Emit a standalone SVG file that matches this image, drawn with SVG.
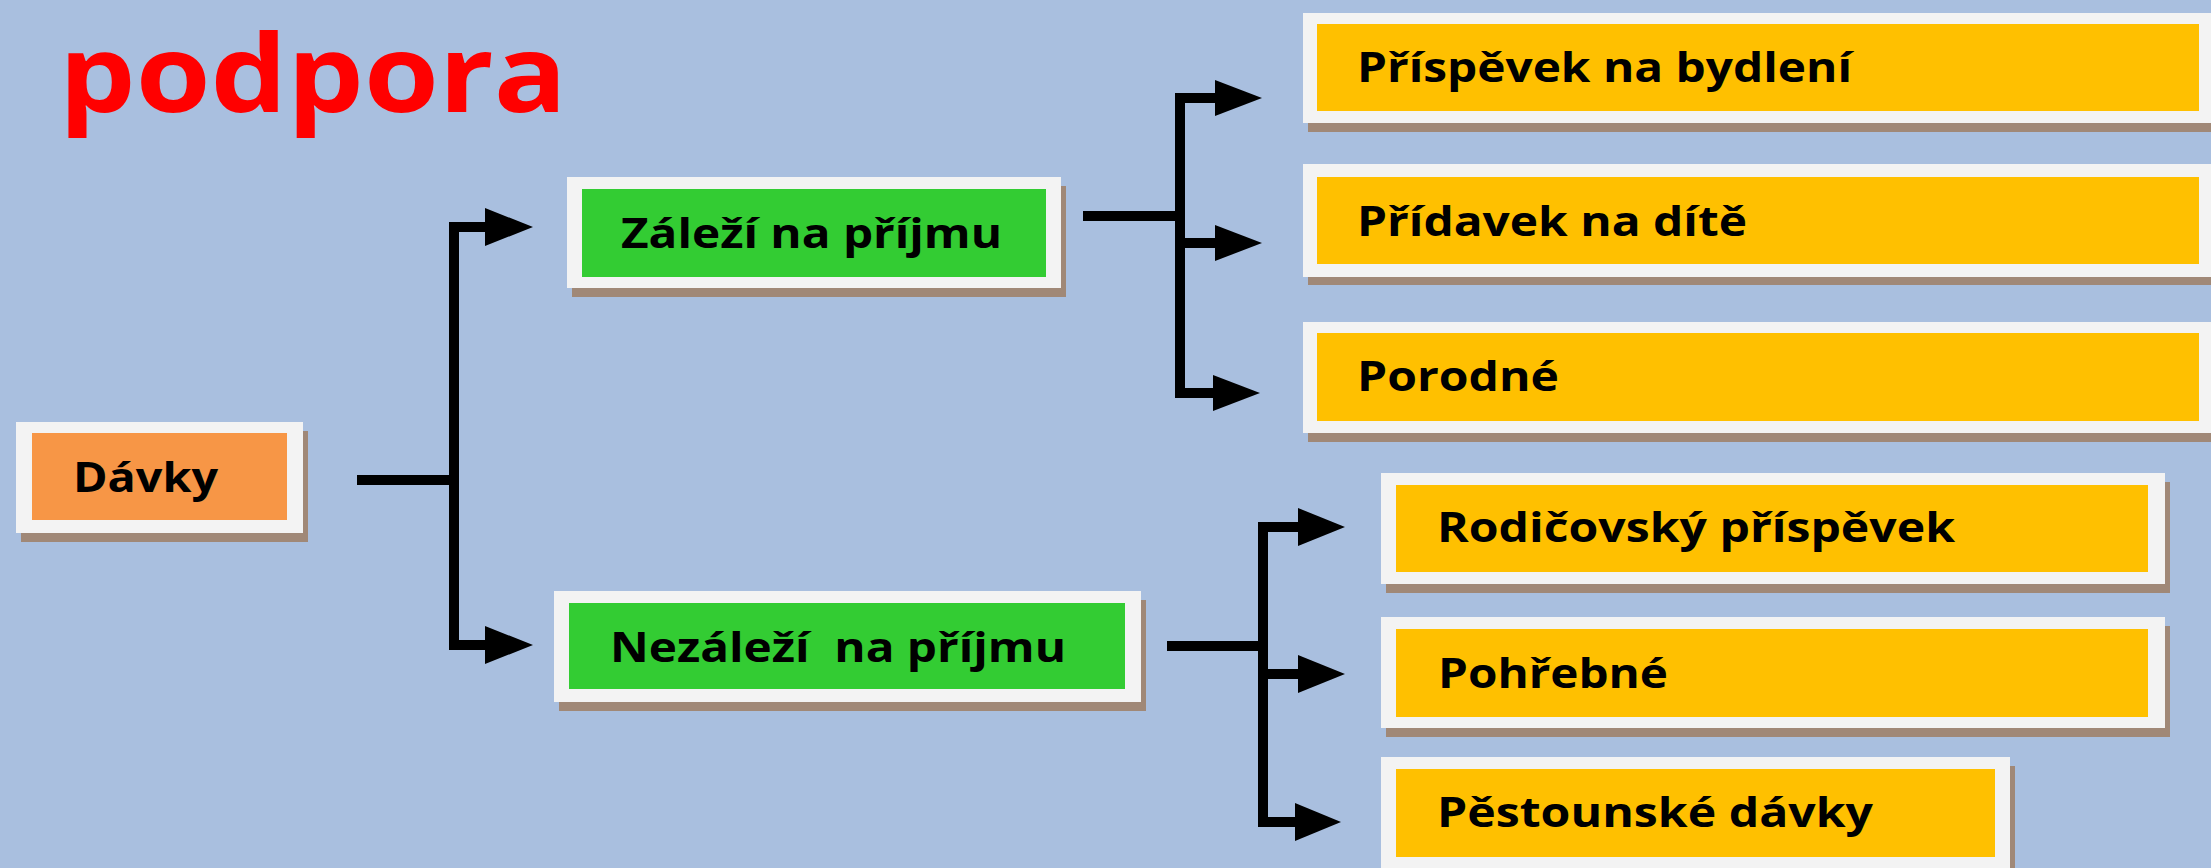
<svg xmlns="http://www.w3.org/2000/svg" width="2211" height="868" viewBox="0 0 2211 868">
<style>
.bg{fill:#A9BFDF}
.frame{fill:#F3F3F3}
.shadow{fill:#A08877}
.orange{fill:#F79646}
.green{fill:#33CC33}
.yellow{fill:#FFC000}
.lbl{font-family:"Open Sans","Noto Sans","DejaVu Sans",sans-serif;font-weight:bold;font-size:42px;fill:#000;white-space:pre}
.title{font-family:"Open Sans","Noto Sans","DejaVu Sans",sans-serif;font-weight:bold;font-size:108px;fill:#FF0000}
.line{fill:none;stroke:#000;stroke-width:10;stroke-linejoin:miter}
.head{fill:#000}
</style>
<rect class="bg" x="0" y="0" width="2211" height="868"/>
<text class="title" x="59" y="112" textLength="508" lengthAdjust="spacingAndGlyphs">podpora</text>

<g id="connectors">
  <path class="line" d="M357 480 H454"/>
  <path class="line" d="M488 227 H454 V645 H488"/>
  <polygon class="head" points="485,208 533,227 485,246"/>
  <polygon class="head" points="485,626 533,645 485,664"/>

  <path class="line" d="M1083 216 H1180"/>
  <path class="line" d="M1218 98 H1180 V393 H1218"/>
  <path class="line" d="M1180 243 H1218"/>
  <polygon class="head" points="1215,80 1262,98 1215,116"/>
  <polygon class="head" points="1215,225 1262,243 1215,261"/>
  <polygon class="head" points="1213,375 1260,393 1213,411"/>

  <path class="line" d="M1167 646 H1263"/>
  <path class="line" d="M1300 527 H1263 V822 H1300"/>
  <path class="line" d="M1263 674 H1300"/>
  <polygon class="head" points="1298,508 1345,527 1298,546"/>
  <polygon class="head" points="1298,655 1345,674 1298,693"/>
  <polygon class="head" points="1295,803 1341,822 1295,841"/>
</g>

<g id="davky">
  <rect class="shadow" x="21" y="431" width="287" height="111"/>
  <rect class="frame" x="16" y="422" width="287" height="111"/>
  <rect class="orange" x="32" y="433" width="255" height="87"/>
  <text class="lbl" x="73" y="492" textLength="145" lengthAdjust="spacingAndGlyphs">Dávky</text>
</g>

<g id="zalezi">
  <rect class="shadow" x="572" y="186" width="494" height="111"/>
  <rect class="frame" x="567" y="177" width="494" height="111"/>
  <rect class="green" x="582" y="189" width="464" height="88"/>
  <text class="lbl" x="621" y="248" textLength="381" lengthAdjust="spacingAndGlyphs">Záleží na příjmu</text>
</g>

<g id="nezalezi">
  <rect class="shadow" x="559" y="600" width="587" height="111"/>
  <rect class="frame" x="554" y="591" width="587" height="111"/>
  <rect class="green" x="569" y="603" width="556" height="86"/>
  <text class="lbl" x="610" y="662" textLength="456" lengthAdjust="spacingAndGlyphs">Nezáleží  na příjmu</text>
</g>

<g id="prispevek-na-bydleni">
  <rect class="shadow" x="1308" y="22" width="910" height="110"/>
  <rect class="frame" x="1303" y="13" width="910" height="110"/>
  <rect class="yellow" x="1317" y="24" width="882" height="87"/>
  <text class="lbl" x="1357" y="82" textLength="495" lengthAdjust="spacingAndGlyphs">Příspěvek na bydlení</text>
</g>

<g id="pridavek-na-dite">
  <rect class="shadow" x="1308" y="173" width="910" height="112"/>
  <rect class="frame" x="1303" y="164" width="910" height="113"/>
  <rect class="yellow" x="1317" y="177" width="882" height="87"/>
  <text class="lbl" x="1357" y="236" textLength="390" lengthAdjust="spacingAndGlyphs">Přídavek na dítě</text>
</g>

<g id="porodne">
  <rect class="shadow" x="1308" y="331" width="910" height="111"/>
  <rect class="frame" x="1303" y="322" width="910" height="111"/>
  <rect class="yellow" x="1317" y="333" width="882" height="88"/>
  <text class="lbl" x="1357" y="391" textLength="202" lengthAdjust="spacingAndGlyphs">Porodné</text>
</g>

<g id="rodicovsky-prispevek">
  <rect class="shadow" x="1386" y="482" width="784" height="111"/>
  <rect class="frame" x="1381" y="473" width="784" height="111"/>
  <rect class="yellow" x="1396" y="485" width="752" height="87"/>
  <text class="lbl" x="1437" y="542" textLength="518" lengthAdjust="spacingAndGlyphs">Rodičovský příspěvek</text>
</g>

<g id="pohrebne">
  <rect class="shadow" x="1386" y="626" width="784" height="111"/>
  <rect class="frame" x="1381" y="617" width="784" height="111"/>
  <rect class="yellow" x="1396" y="629" width="752" height="88"/>
  <text class="lbl" x="1438" y="688" textLength="230" lengthAdjust="spacingAndGlyphs">Pohřebné</text>
</g>

<g id="pestounske-davky">
  <rect class="shadow" x="1386" y="766" width="629" height="111"/>
  <rect class="frame" x="1381" y="757" width="629" height="111"/>
  <rect class="yellow" x="1396" y="769" width="599" height="88"/>
  <text class="lbl" x="1437" y="827" textLength="436" lengthAdjust="spacingAndGlyphs">Pěstounské dávky</text>
</g>
</svg>
